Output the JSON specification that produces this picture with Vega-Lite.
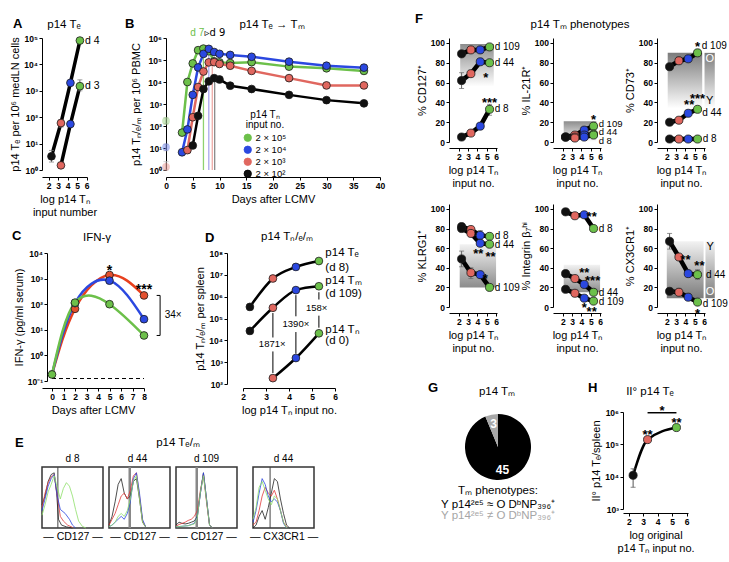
{
"$schema":"https://vega.github.io/schema/vega-lite/v6.json",
"autosize":{"type":"none"},
"padding":{"left":42,"top":38,"right":687,"bottom":524},
"background":"#ffffff",
"config":{
 "font":"Liberation Sans",
 "view":{"stroke":null},
 "axis":{"grid":false,"domainColor":"#000000","tickColor":"#000000","labelColor":"#000000","titleColor":"#000000","labelFont":"Liberation Sans","titleFont":"Liberation Sans","labelFontSize":8.5,"labelFontWeight":"bold","titleFontSize":11,"titleFontWeight":"normal","tickSize":3,"labelPadding":1.5,"titlePadding":3,"labelFlush":false,"labelOverlap":false,"labelBound":false},
 "axisX":{"labelAngle":0},
 "title":{"font":"Liberation Sans","fontSize":11.5,"fontWeight":"normal","color":"#000000","anchor":"middle","frame":"group","offset":0},
 "text":{"font":"Liberation Sans"},
 "legend":{"labelFont":"Liberation Sans","titleFont":"Liberation Sans"}
},
"datasets":{
 "bmain":[
{"n":"2 × 10⁵","x":3,"y":50},{"n":"2 × 10⁵","x":4,"y":10000},{"n":"2 × 10⁵","x":5,"y":70000},{"n":"2 × 10⁵","x":6,"y":280000},{"n":"2 × 10⁵","x":7,"y":330000},{"n":"2 × 10⁵","x":8,"y":250000},{"n":"2 × 10⁵","x":9,"y":87000},{"n":"2 × 10⁵","x":10,"y":78000},{"n":"2 × 10⁵","x":12,"y":73000},{"n":"2 × 10⁵","x":16,"y":80000},{"n":"2 × 10⁵","x":23,"y":50000},{"n":"2 × 10⁵","x":30,"y":42000},{"n":"2 × 10⁵","x":37,"y":32000},
{"n":"2 × 10⁴","x":3,"y":6.4},{"n":"2 × 10⁴","x":4,"y":70},{"n":"2 × 10⁴","x":5,"y":2600},{"n":"2 × 10⁴","x":6,"y":46000},{"n":"2 × 10⁴","x":7,"y":190000},{"n":"2 × 10⁴","x":8,"y":320000},{"n":"2 × 10⁴","x":9,"y":230000},{"n":"2 × 10⁴","x":10,"y":190000},{"n":"2 × 10⁴","x":12,"y":170000},{"n":"2 × 10⁴","x":16,"y":140000},{"n":"2 × 10⁴","x":23,"y":84000},{"n":"2 × 10⁴","x":30,"y":55000},{"n":"2 × 10⁴","x":37,"y":45000},
{"n":"2 × 10³","x":4,"y":8},{"n":"2 × 10³","x":5,"y":250},{"n":"2 × 10³","x":6,"y":5900},{"n":"2 × 10³","x":7,"y":30000},{"n":"2 × 10³","x":8,"y":78000},{"n":"2 × 10³","x":9,"y":80000},{"n":"2 × 10³","x":10,"y":66000},{"n":"2 × 10³","x":12,"y":55000},{"n":"2 × 10³","x":16,"y":32000},{"n":"2 × 10³","x":23,"y":15000},{"n":"2 × 10³","x":30,"y":7000},{"n":"2 × 10³","x":37,"y":7000},
{"n":"2 × 10²","x":5,"y":13},{"n":"2 × 10²","x":6,"y":290},{"n":"2 × 10²","x":7,"y":4800},{"n":"2 × 10²","x":8,"y":10700},{"n":"2 × 10²","x":9,"y":15000},{"n":"2 × 10²","x":10,"y":13000},{"n":"2 × 10²","x":12,"y":6800},{"n":"2 × 10²","x":16,"y":4800},{"n":"2 × 10²","x":23,"y":2600},{"n":"2 × 10²","x":30,"y":1500},{"n":"2 × 10²","x":37,"y":1070}
 ],
 "cline":[
{"n":"r","x":0,"y":0.18},{"n":"r","x":2,"y":66},{"n":"r","x":5,"y":1380},{"n":"r","x":8,"y":220},
{"n":"b","x":0,"y":0.18},{"n":"b","x":2,"y":110},{"n":"b","x":5,"y":830},{"n":"b","x":8,"y":26},
{"n":"g","x":0,"y":0.18},{"n":"g","x":2,"y":115},{"n":"g","x":5,"y":100},{"n":"g","x":8,"y":6}
 ],
 "none":[],
 "frame":[{"x":0,"x2":1,"y":0,"y2":1.05}]
},
"columns":10,"align":"each","bounds":"flush","spacing":0,
"resolve":{"scale":{"fill":"independent","stroke":"independent","color":"independent"}},
"concat":[
{
 "width":45,"height":132,
 "data":{"values":[
  {"s":"d4","n":"k","x":2.3,"y":3.3},{"s":"d4","n":"r","x":3.3,"y":60},{"s":"d4","n":"b","x":4.3,"y":2000},{"s":"d4","n":"g","x":5.3,"y":80000},
  {"s":"d3","n":"r","x":3.3,"y":1.5},{"s":"d3","n":"b","x":4.3,"y":55},{"s":"d3","n":"g","x":5.3,"y":1500}]},
 "encoding":{
  "x":{"field":"x","type":"quantitative","scale":{"domain":[1.3,6.05]},"axis":{"values":[2,3,4,5,6],"title":["log p14 Tₙ","input number"],"offset":7}},
  "y":{"field":"y","type":"quantitative","scale":{"type":"log","domain":[1,100000]},"axis":{"values":[1,10,100,1000,10000,100000],"labelExpr":"datum.value < 1 ? '10⁻¹' : '10' + ['⁰','¹','²','³','⁴','⁵','⁶','⁷','⁸'][round(log(datum.value)/LN10)]","title":"p14 Tₑ per 10⁶ medLN cells"}}},
 "layer":[
  {"mark":{"type":"line","color":"#000000","strokeWidth":3.5},"encoding":{"detail":{"field":"s","type":"nominal"}}},
  {"data":{"values":[{"x":2.3,"y":2,"hi":5.5},{"x":5.3,"y":1000,"hi":2600},{"x":3.3,"y":42,"hi":80}]},"mark":{"type":"errorbar","ticks":{"size":5},"color":"#777777"},"encoding":{"y2":{"field":"hi"}}},
  {"mark":{"type":"circle","size":60,"stroke":"#1a1a1a","strokeWidth":0.8,"opacity":1},"encoding":{"fill":{"field":"n","type":"nominal","scale":{"domain":["g","b","r","k"],"range":["#6cc04a","#2b48e0","#e0675f","#111111"]},"legend":null}}},
  {"data":{"values":[{"t":"d 4","x":5.85,"y":80000},{"t":"d 3","x":5.85,"y":1500}]},"mark":{"type":"text","align":"left","baseline":"middle","fontSize":10.5},"encoding":{"text":{"field":"t"}}}
 ]},
{"width":57,"height":1,"data":{"name":"none"},"mark":"point","title":{"text":"A","anchor":"start","fontSize":13,"fontWeight":"bold","dx":-96,"dy":-3}},
{
 "width":10,"height":132,
 "encoding":{
  "x":{"field":"x","type":"quantitative","scale":{"domain":[0,40],"range":[0,214]},"axis":{"values":[0,5,10,15,20,25,30,35,40],"title":"Days after LCMV","offset":7}},
  "y":{"field":"y","type":"quantitative","scale":{"type":"log","domain":[1,1000000]},"axis":{"values":[1,10,100,1000,10000,100000,1000000],"labelExpr":"datum.value < 1 ? '10⁻¹' : '10' + ['⁰','¹','²','³','⁴','⁵','⁶','⁷','⁸'][round(log(datum.value)/LN10)]","title":"p14 Tₙ/ₑ/ₘ per 10⁶ PBMC","titlePadding":6}}},
 "layer":[
  {"data":{"values":[{"x":7,"y":330000,"k":"g"},{"x":8,"y":320000,"k":"b"},{"x":8.65,"y":80000,"k":"r"},{"x":9.1,"y":15000,"k":"k"}]},
   "mark":{"type":"rule","strokeWidth":1.3},
   "encoding":{"y2":{"datum":1},"color":{"field":"k","type":"nominal","scale":{"domain":["g","b","r","k"],"range":["#8fd16e","#aaa6ee","#eeaaa6","#8a8a8a"]},"legend":null}}},
  {"data":{"values":[{"x":0,"y":125,"hi":235},{"x":0,"y":7.5,"hi":15},{"x":0,"y":1,"hi":2.4},{"x":3,"y":4.5,"hi":8.5},{"x":4,"y":6,"hi":12}]},"mark":{"type":"errorbar","ticks":{"size":5},"color":"#bbbbbb"},"encoding":{"y2":{"field":"hi"}}},
  {"data":{"values":[{"n":"2 × 10⁵","x":0,"y":170},{"n":"2 × 10⁴","x":0,"y":11},{"n":"2 × 10³","x":0,"y":1.4}]},
   "mark":{"type":"circle","size":60,"opacity":0.35},
   "encoding":{"fill":{"field":"n","type":"nominal","scale":{"domain":["2 × 10⁵","2 × 10⁴","2 × 10³","2 × 10²"],"range":["#6cc04a","#2b48e0","#e0675f","#111111"]},
    "legend":{"title":["p14 Tₙ","input no."],"orient":"none","legendX":77,"legendY":72,"padding":0,"titleAnchor":"middle","titleAlign":"center","titleFontWeight":"normal","titleFontSize":10,"titleLineHeight":10,"labelFontSize":9.5,"symbolSize":55,"symbolType":"circle","symbolStrokeColor":"#1a1a1a","symbolStrokeWidth":0.8,"symbolOpacity":1,"rowPadding":0,"titlePadding":3,"labelOffset":3}}}},
  {"data":{"name":"bmain"},"mark":{"type":"line","strokeWidth":2.5},
   "encoding":{"stroke":{"field":"n","type":"nominal","scale":{"domain":["2 × 10⁵","2 × 10⁴","2 × 10³","2 × 10²"],"range":["#6cc04a","#2b48e0","#e0675f","#000000"]},"legend":null}}},
  {"data":{"name":"bmain"},"mark":{"type":"circle","size":60,"stroke":"#1a1a1a","strokeWidth":0.8,"opacity":1},
   "encoding":{"fill":{"field":"n","type":"nominal","scale":{"domain":["2 × 10⁵","2 × 10⁴","2 × 10³","2 × 10²"],"range":["#6cc04a","#2b48e0","#e0675f","#111111"]},
    "legend":{"title":["p14 Tₙ","input no."],"orient":"none","legendX":77,"legendY":72,"padding":0,"titleAnchor":"middle","titleAlign":"center","titleFontWeight":"normal","titleFontSize":10,"titleLineHeight":10,"labelFontSize":9.5,"symbolSize":55,"symbolType":"circle","symbolStrokeColor":"#1a1a1a","symbolStrokeWidth":0.8,"symbolOpacity":1,"rowPadding":0,"titlePadding":3,"labelOffset":3}}}},
  {"data":{"values":[{"t":"d 7","x":7.15,"y":1700000}]},"mark":{"type":"text","align":"right","baseline":"middle","fontSize":10,"fill":"#6cc04a"},"encoding":{"text":{"field":"t"}}},
  {"data":{"values":[{"t":"▹d 9","x":7.2,"y":1700000}]},"mark":{"type":"text","align":"left","baseline":"middle","fontSize":10,"fill":"#000000","font":"DejaVu Sans"},"encoding":{"text":{"field":"t"}}}
 ]},
{"width":67,"height":166,"data":{"name":"none"},"mark":"point","title":{"text":"B","anchor":"start","fontSize":13,"fontWeight":"bold","dx":-51,"dy":-3}},
{"width":10,"height":1,"data":{"name":"none"},"mark":"point","title":{"text":"p14 Tₑ","dx":-184,"dy":-4}},
{"width":196,"height":1,"data":{"name":"none"},"mark":"point","title":{"text":"F","anchor":"start","fontSize":13,"fontWeight":"bold","dx":162,"dy":-8.5}},
{"width":48,"height":104,
 "data":{"values":[{"s":"a","n":"k","x":2.3,"y":89},{"s":"a","n":"r","x":3.3,"y":93},{"s":"a","n":"b","x":4.3,"y":93},{"s":"a","n":"g","x":5.3,"y":96},{"s":"b","n":"k","x":2.3,"y":62},{"s":"b","n":"r","x":3.3,"y":69},{"s":"b","n":"b","x":4.3,"y":81},{"s":"b","n":"g","x":5.3,"y":80},{"s":"c","n":"k","x":2.3,"y":5},{"s":"c","n":"r","x":3.3,"y":9},{"s":"c","n":"b","x":4.3,"y":16},{"s":"c","n":"g","x":5.3,"y":33}]},
 "encoding":{"x":{"field":"x","type":"quantitative","scale":{"domain":[0.95,6.1]},"axis":{"values":[2,3,4,5,6],"title":["log p14 Tₙ","input no."],"offset":6}},
             "y":{"field":"y","type":"quantitative","scale":{"domain":[0,105]},"axis":{"values":[0,20,40,60,80,100],"title":"% CD127⁺"}}},
 "layer":[
  {"data":{"values":[{"x":2.15,"x2":5.75,"y":56,"y2":99}]},"mark":{"type":"rect","fill":{"gradient":"linear","x1":0,"y1":0,"x2":0,"y2":1,"stops":[{"offset":0,"color":"#8c8c8c"},{"offset":1,"color":"#ffffff"}]}},"encoding":{"x2":{"field":"x2"},"y2":{"field":"y2"}}},
  {"data":{"values":[{"x":2.3,"y":54,"hi":70},{"x":5.3,"y":27,"hi":38}]},"mark":{"type":"errorbar","ticks":{"size":5},"color":"#666666"},"encoding":{"y2":{"field":"hi"}}},
  {"mark":{"type":"line","color":"#000000","strokeWidth":4.5,"strokeCap":"round"},"encoding":{"detail":{"field":"s","type":"nominal"}}},
  {"mark":{"type":"circle","size":65,"stroke":"#1a1a1a","strokeWidth":0.8,"opacity":1},"encoding":{"fill":{"field":"n","type":"nominal","scale":{"domain":["g","b","r","k"],"range":["#6cc04a","#2b48e0","#e0675f","#111111"]},"legend":null}}},
  {"data":{"values":[{"t":"d 109","x":5.85,"y":96},{"t":"d 44","x":5.85,"y":80},{"t":"d 8","x":5.85,"y":33}]},"mark":{"type":"text","align":"left","baseline":"middle","fontSize":10},"encoding":{"text":{"field":"t"}}},
  {"data":{"values":[{"t":"*","x":4.9,"y":68},{"t":"***","x":5.3,"y":42}]},"mark":{"type":"text","align":"center","baseline":"middle","fontSize":13,"fontWeight":"bold","dy":3},"encoding":{"text":{"field":"t"}}}
 ]},
{"width":48,"height":104,
 "data":{"values":[{"s":"a","n":"k","x":2.3,"y":5},{"s":"a","n":"r","x":3.3,"y":7},{"s":"a","n":"b","x":4.3,"y":12},{"s":"a","n":"g","x":5.3,"y":16},{"s":"b","n":"k","x":2.3,"y":5},{"s":"b","n":"r","x":3.3,"y":5},{"s":"b","n":"b","x":4.3,"y":7},{"s":"b","n":"g","x":5.3,"y":8},{"s":"c","n":"k","x":2.3,"y":5},{"s":"c","n":"r","x":3.3,"y":4},{"s":"c","n":"b","x":4.3,"y":5},{"s":"c","n":"g","x":5.3,"y":7}]},
 "encoding":{"x":{"field":"x","type":"quantitative","scale":{"domain":[0.95,6.1]},"axis":{"values":[2,3,4,5,6],"title":["log p14 Tₙ","input no."],"offset":6}},
             "y":{"field":"y","type":"quantitative","scale":{"domain":[0,105]},"axis":{"values":[0,20,40,60,80,100],"title":"% IL-21R⁺"}}},
 "layer":[
  {"data":{"values":[{"x":2.1,"x2":5.6,"y":0,"y2":21}]},"mark":{"type":"rect","fill":{"gradient":"linear","x1":0,"y1":0,"x2":0,"y2":1,"stops":[{"offset":0,"color":"#8c8c8c"},{"offset":1,"color":"#ffffff"}]}},"encoding":{"x2":{"field":"x2"},"y2":{"field":"y2"}}},
  {"mark":{"type":"line","color":"#000000","strokeWidth":4.5,"strokeCap":"round"},"encoding":{"detail":{"field":"s","type":"nominal"}}},
  {"mark":{"type":"circle","size":65,"stroke":"#1a1a1a","strokeWidth":0.8,"opacity":1},"encoding":{"fill":{"field":"n","type":"nominal","scale":{"domain":["g","b","r","k"],"range":["#6cc04a","#2b48e0","#e0675f","#111111"]},"legend":null}}},
  {"data":{"values":[{"t":"d 109","x":5.85,"y":18.5},{"t":"d 44","x":5.85,"y":10},{"t":"d 8","x":5.85,"y":1.5}]},"mark":{"type":"text","align":"left","baseline":"middle","fontSize":9.5},"encoding":{"text":{"field":"t"}}},
  {"data":{"values":[{"t":"*","x":5.3,"y":25}]},"mark":{"type":"text","align":"center","baseline":"middle","fontSize":13,"fontWeight":"bold","dy":3},"encoding":{"text":{"field":"t"}}}
 ]},
{"width":34,"height":1,"data":{"name":"none"},"mark":"point","title":{"text":"p14 Tₑ → Tₘ","dx":-368,"dy":-4}},
{"width":48,"height":104,
 "data":{"values":[{"s":"a","n":"k","x":2.3,"y":76},{"s":"a","n":"r","x":3.3,"y":82},{"s":"a","n":"b","x":4.3,"y":84},{"s":"a","n":"g","x":5.3,"y":90},{"s":"b","n":"k","x":2.3,"y":20},{"s":"b","n":"r","x":3.3,"y":22},{"s":"b","n":"b","x":4.3,"y":29},{"s":"b","n":"g","x":5.3,"y":33},{"s":"c","n":"k","x":2.3,"y":3},{"s":"c","n":"r","x":3.3,"y":3},{"s":"c","n":"b","x":4.3,"y":3},{"s":"c","n":"g","x":5.3,"y":3}]},
 "encoding":{"x":{"field":"x","type":"quantitative","scale":{"domain":[0.95,6.1]},"axis":{"values":[2,3,4,5,6],"title":["log p14 Tₙ","input no."],"offset":6}},
             "y":{"field":"y","type":"quantitative","scale":{"domain":[0,105]},"axis":{"values":[0,20,40,60,80,100],"title":"% CD73⁺"}}},
 "layer":[
  {"data":{"values":[{"x":2.1,"x2":5.8,"y":34,"y2":90},{"x":6.05,"x2":7.15,"y":34,"y2":90}]},"mark":{"type":"rect","fill":{"gradient":"linear","x1":0,"y1":0,"x2":0,"y2":1,"stops":[{"offset":0,"color":"#7c7c7c"},{"offset":1,"color":"#ffffff"}]}},"encoding":{"x2":{"field":"x2"},"y2":{"field":"y2"}}},
  {"data":{"values":[{"x":3.3,"y":79,"hi":86}]},"mark":{"type":"errorbar","ticks":{"size":5},"color":"#666666"},"encoding":{"y2":{"field":"hi"}}},
  {"mark":{"type":"line","color":"#000000","strokeWidth":4.5,"strokeCap":"round"},"encoding":{"detail":{"field":"s","type":"nominal"}}},
  {"mark":{"type":"circle","size":65,"stroke":"#1a1a1a","strokeWidth":0.8,"opacity":1},"encoding":{"fill":{"field":"n","type":"nominal","scale":{"domain":["g","b","r","k"],"range":["#6cc04a","#2b48e0","#e0675f","#111111"]},"legend":null}}},
  {"data":{"values":[{"t":"d 109","x":5.75,"y":97},{"t":"d 44","x":5.8,"y":29},{"t":"d 8","x":5.85,"y":3}]},"mark":{"type":"text","align":"left","baseline":"middle","fontSize":10},"encoding":{"text":{"field":"t"}}},
  {"data":{"values":[{"t":"O","x":6.6,"y":84}]},"mark":{"type":"text","align":"center","baseline":"middle","fontSize":11,"fill":"#ffffff"},"encoding":{"text":{"field":"t"}}},
  {"data":{"values":[{"t":"Y","x":6.6,"y":41}]},"mark":{"type":"text","align":"center","baseline":"middle","fontSize":11,"fill":"#000000"},"encoding":{"text":{"field":"t"}}},
  {"data":{"values":[{"t":"*","x":5.3,"y":99},{"t":"**","x":4.4,"y":40},{"t":"***","x":5.3,"y":46}]},"mark":{"type":"text","align":"center","baseline":"middle","fontSize":13,"fontWeight":"bold","dy":3},"encoding":{"text":{"field":"t"}}}
 ]},

{"width":67,"height":1,"data":{"name":"none"},"mark":"point","title":{"text":"C","anchor":"start","fontSize":13,"fontWeight":"bold","dx":-30,"dy":42.5}},
{"width":57,"height":1,"data":{"name":"none"},"mark":"point","title":{"text":"IFN-γ","dx":-40.5,"dy":43.75}},
{"width":10,"height":1,"data":{"name":"none"},"mark":"point","title":{"text":"D","anchor":"start","fontSize":13,"fontWeight":"bold","dx":39,"dy":44.5}},
{"width":67,"height":1,"data":{"name":"none"},"mark":"point","title":{"text":"p14 Tₙ/ₑ/ₘ","dx":77.5,"dy":42.75}},
{"width":10,"height":1,"data":{"name":"none"},"mark":"point"},
{"width":196,"height":1,"data":{"name":"none"},"mark":"point"},
{"width":48,"height":49,
 "data":{"values":[{"s":"a","n":"k","x":2.3,"y":82},{"s":"a","n":"r","x":3.3,"y":79},{"s":"a","n":"b","x":4.3,"y":73},{"s":"a","n":"g","x":5.3,"y":72},{"s":"b","n":"k","x":2.3,"y":80},{"s":"b","n":"r","x":3.3,"y":75},{"s":"b","n":"b","x":4.3,"y":65},{"s":"b","n":"g","x":5.3,"y":64},{"s":"c","n":"k","x":2.3,"y":49},{"s":"c","n":"r","x":3.3,"y":35},{"s":"c","n":"b","x":4.3,"y":33},{"s":"c","n":"g","x":5.3,"y":20}]},
 "encoding":{"x":{"field":"x","type":"quantitative","scale":{"domain":[0.95,6.1]},"axis":{"values":[2,3,4,5,6],"title":["log p14 Tₙ","input no."],"offset":60}},
             "y":{"field":"y","type":"quantitative","scale":{"domain":[0,105],"range":[103,0]},"axis":{"values":[0,20,40,60,80,100],"title":"% KLRG1⁺"}}},
 "layer":[
  {"data":{"values":[{"x":2.1,"x2":6.0,"y":20,"y2":64}]},"mark":{"type":"rect","fill":{"gradient":"linear","x1":0,"y1":0,"x2":0,"y2":1,"stops":[{"offset":0,"color":"#f2f2f2"},{"offset":1,"color":"#8c8c8c"}]}},"encoding":{"x2":{"field":"x2"},"y2":{"field":"y2"}}},
  {"data":{"values":[{"x":2.3,"y":41,"hi":57},{"x":3.3,"y":29,"hi":40},{"x":4.3,"y":67,"hi":78}]},"mark":{"type":"errorbar","ticks":{"size":5},"color":"#666666"},"encoding":{"y2":{"field":"hi"}}},
  {"mark":{"type":"line","color":"#000000","strokeWidth":4.5,"strokeCap":"round"},"encoding":{"detail":{"field":"s","type":"nominal"}}},
  {"mark":{"type":"circle","size":65,"stroke":"#1a1a1a","strokeWidth":0.8,"opacity":1},"encoding":{"fill":{"field":"n","type":"nominal","scale":{"domain":["g","b","r","k"],"range":["#6cc04a","#2b48e0","#e0675f","#111111"]},"legend":null}}},
  {"data":{"values":[{"t":"d 8","x":5.85,"y":72},{"t":"d 44","x":5.85,"y":63},{"t":"d 109","x":5.85,"y":19}]},"mark":{"type":"text","align":"left","baseline":"middle","fontSize":10},"encoding":{"text":{"field":"t"}}},
  {"data":{"values":[{"t":"**","x":4.1,"y":57},{"t":"**","x":5.4,"y":54},{"t":"*","x":4.85,"y":32}]},"mark":{"type":"text","align":"center","baseline":"middle","fontSize":13,"fontWeight":"bold","dy":3},"encoding":{"text":{"field":"t"}}}
 ]},
{"width":48,"height":49,
 "data":{"values":[{"s":"a","n":"k","x":2.3,"y":97},{"s":"a","n":"r","x":3.3,"y":93},{"s":"a","n":"b","x":4.3,"y":94},{"s":"a","n":"g","x":5.3,"y":80},{"s":"b","n":"k","x":2.3,"y":34},{"s":"b","n":"r","x":3.3,"y":29},{"s":"b","n":"b","x":4.3,"y":23},{"s":"b","n":"g","x":5.3,"y":15},{"s":"c","n":"k","x":2.3,"y":18},{"s":"c","n":"r","x":3.3,"y":14},{"s":"c","n":"b","x":4.3,"y":9},{"s":"c","n":"g","x":5.3,"y":6}]},
 "encoding":{"x":{"field":"x","type":"quantitative","scale":{"domain":[0.95,6.1]},"axis":{"values":[2,3,4,5,6],"title":["log p14 Tₙ","input no."],"offset":60}},
             "y":{"field":"y","type":"quantitative","scale":{"domain":[0,105],"range":[103,0]},"axis":{"values":[0,20,40,60,80,100],"title":"% Integrin β₇ʰⁱ"}}},
 "layer":[
  {"data":{"values":[{"x":2.1,"x2":6.0,"y":15,"y2":43}]},"mark":{"type":"rect","fill":{"gradient":"linear","x1":0,"y1":0,"x2":0,"y2":1,"stops":[{"offset":0,"color":"#f2f2f2"},{"offset":1,"color":"#8c8c8c"}]}},"encoding":{"x2":{"field":"x2"},"y2":{"field":"y2"}}},
  {"data":{"values":[{"x":5.3,"y":77,"hi":83}]},"mark":{"type":"errorbar","ticks":{"size":5},"color":"#666666"},"encoding":{"y2":{"field":"hi"}}},
  {"mark":{"type":"line","color":"#000000","strokeWidth":4.5,"strokeCap":"round"},"encoding":{"detail":{"field":"s","type":"nominal"}}},
  {"mark":{"type":"circle","size":65,"stroke":"#1a1a1a","strokeWidth":0.8,"opacity":1},"encoding":{"fill":{"field":"n","type":"nominal","scale":{"domain":["g","b","r","k"],"range":["#6cc04a","#2b48e0","#e0675f","#111111"]},"legend":null}}},
  {"data":{"values":[{"t":"d 8","x":5.85,"y":80},{"t":"d 44","x":5.85,"y":14},{"t":"d 109","x":5.85,"y":5}]},"mark":{"type":"text","align":"left","baseline":"middle","fontSize":10},"encoding":{"text":{"field":"t"}}},
  {"data":{"values":[{"t":"**","x":5.1,"y":95},{"t":"**","x":4.3,"y":38},{"t":"***","x":5.2,"y":30},{"t":"*","x":4.3,"y":2},{"t":"**","x":5.1,"y":-2}]},"mark":{"type":"text","align":"center","baseline":"middle","fontSize":13,"fontWeight":"bold","dy":3},"encoding":{"text":{"field":"t"}}}
 ]},
{"width":34,"height":1,"data":{"name":"none"},"mark":"point","title":{"text":"p14 Tₘ phenotypes","dx":-60,"dy":-170}},
{"width":48,"height":49,
 "data":{"values":[{"s":"a","n":"k","x":2.3,"y":67},{"s":"a","n":"r","x":3.3,"y":51},{"s":"a","n":"b","x":4.3,"y":34},{"s":"a","n":"g","x":5.3,"y":33},{"s":"b","n":"k","x":2.3,"y":16},{"s":"b","n":"r","x":3.3,"y":15},{"s":"b","n":"b","x":4.3,"y":10},{"s":"b","n":"g","x":5.3,"y":5}]},
 "encoding":{"x":{"field":"x","type":"quantitative","scale":{"domain":[0.95,6.1]},"axis":{"values":[2,3,4,5,6],"title":["log p14 Tₙ","input no."],"offset":60}},
             "y":{"field":"y","type":"quantitative","scale":{"domain":[0,105],"range":[103,0]},"axis":{"values":[0,20,40,60,80,100],"title":"% CX3CR1⁺"}}},
 "layer":[
  {"data":{"values":[{"x":2.0,"x2":5.95,"y":9,"y2":67},{"x":6.15,"x2":7.15,"y":9,"y2":67}]},"mark":{"type":"rect","fill":{"gradient":"linear","x1":0,"y1":0,"x2":0,"y2":1,"stops":[{"offset":0,"color":"#f2f2f2"},{"offset":1,"color":"#7c7c7c"}]}},"encoding":{"x2":{"field":"x2"},"y2":{"field":"y2"}}},
  {"data":{"values":[{"x":2.3,"y":59,"hi":75},{"x":5.3,"y":28,"hi":38},{"x":3.3,"y":13,"hi":19}]},"mark":{"type":"errorbar","ticks":{"size":5},"color":"#666666"},"encoding":{"y2":{"field":"hi"}}},
  {"mark":{"type":"line","color":"#000000","strokeWidth":4.5,"strokeCap":"round"},"encoding":{"detail":{"field":"s","type":"nominal"}}},
  {"mark":{"type":"circle","size":65,"stroke":"#1a1a1a","strokeWidth":0.8,"opacity":1},"encoding":{"fill":{"field":"n","type":"nominal","scale":{"domain":["g","b","r","k"],"range":["#6cc04a","#2b48e0","#e0675f","#111111"]},"legend":null}}},
  {"data":{"values":[{"t":"d 44","x":6.2,"y":33},{"t":"d 109","x":5.85,"y":3}]},"mark":{"type":"text","align":"left","baseline":"middle","fontSize":10},"encoding":{"text":{"field":"t"}}},
  {"data":{"values":[{"t":"Y","x":6.65,"y":61}]},"mark":{"type":"text","align":"center","baseline":"middle","fontSize":11,"fill":"#000000"},"encoding":{"text":{"field":"t"}}},
  {"data":{"values":[{"t":"O","x":6.65,"y":15}]},"mark":{"type":"text","align":"center","baseline":"middle","fontSize":11,"fill":"#ffffff"},"encoding":{"text":{"field":"t"}}},
  {"data":{"values":[{"t":"**","x":4.0,"y":51},{"t":"**","x":5.5,"y":45},{"t":"*","x":5.3,"y":-4}]},"mark":{"type":"text","align":"center","baseline":"middle","fontSize":13,"fontWeight":"bold","dy":3},"encoding":{"text":{"field":"t"}}}
 ]},

{
 "width":67,"height":128,
 "encoding":{
  "x":{"field":"x","type":"quantitative","scale":{"domain":[-0.87,8],"range":[0,102]},"axis":{"values":[0,1,2,3,4,5,6,7,8],"title":"Days after LCMV","offset":7}},
  "y":{"field":"y","type":"quantitative","scale":{"type":"log","domain":[0.1,10000]},"axis":{"values":[0.1,1,10,100,1000,10000],"labelExpr":"datum.value < 1 ? '10⁻¹' : '10' + ['⁰','¹','²','³','⁴','⁵','⁶','⁷','⁸'][round(log(datum.value)/LN10)]","title":"IFN-γ (pg/ml serum)","offset":-5}}},
 "layer":[
  {"data":{"values":[{"x":0,"x2":8,"y":0.125}]},"mark":{"type":"rule","strokeDash":[4,3],"color":"#000000","strokeWidth":1},"encoding":{"x2":{"field":"x2"}}},
  {"data":{"name":"cline"},"mark":{"type":"line","strokeWidth":2.5,"interpolate":"natural"},
   "encoding":{"stroke":{"field":"n","type":"nominal","scale":{"domain":["g","b","r"],"range":["#6cc04a","#2b48e0","#e8401e"]},"legend":null}}},
  {"data":{"values":[{"x":0,"y":0.14,"hi":0.25}]},"mark":{"type":"errorbar","ticks":{"size":5},"color":"#777777"},"encoding":{"y2":{"field":"hi"}}},
  {"data":{"values":[{"n":"r","x":2,"y":66},{"n":"b","x":2,"y":110},{"n":"r","x":5,"y":1380},{"n":"b","x":5,"y":830},{"n":"g","x":5,"y":100},{"n":"r","x":8,"y":220},{"n":"b","x":8,"y":26},{"n":"g","x":8,"y":6},{"n":"g","x":0,"y":0.18},{"n":"g","x":2,"y":115}]},
   "mark":{"type":"circle","size":60,"stroke":"#1a1a1a","strokeWidth":0.8,"opacity":1},
   "encoding":{"fill":{"field":"n","type":"nominal","scale":{"domain":["g","b","r"],"range":["#6cc04a","#2b48e0","#e4502e"]},"legend":null}}},
  {"data":{"values":[{"t":"*","x":5,"y":2600},{"t":"***","x":8,"y":480}]},"mark":{"type":"text","align":"center","baseline":"middle","fontSize":14,"fontWeight":"bold","dy":3},"encoding":{"text":{"field":"t"}}},
  {"data":{"values":[{"x":9.1,"x2":9.4,"y":220,"y2":220},{"x":9.1,"x2":9.4,"y":6,"y2":6},{"x":9.4,"x2":9.4,"y":6,"y2":220}]},"mark":{"type":"rule","color":"#000000","strokeWidth":1},"encoding":{"x2":{"field":"x2"},"y2":{"field":"y2"}}},
  {"data":{"values":[{"t":"34×","x":9.8,"y":38}]},"mark":{"type":"text","align":"left","baseline":"middle","fontSize":10},"encoding":{"text":{"field":"t"}}}
 ]},
{"width":57,"height":1,"data":{"name":"none"},"mark":"point"},
{"width":10,"height":1,"data":{"name":"none"},"mark":"point"},
{"width":67,"height":159,"data":{"name":"none"},"mark":"point"},
{
 "width":10,"height":131,
 "data":{"values":[
  {"s":"E","n":"k","x":2.3,"y":340000},{"s":"E","n":"r","x":3.3,"y":6800000},{"s":"E","n":"b","x":4.3,"y":23000000},{"s":"E","n":"g","x":5.3,"y":43000000},
  {"s":"M","n":"k","x":2.3,"y":27000},{"s":"M","n":"r","x":3.3,"y":310000},{"s":"M","n":"b","x":4.3,"y":2000000},{"s":"M","n":"g","x":5.3,"y":3000000},
  {"s":"N","n":"r","x":3.3,"y":186},{"s":"N","n":"b","x":4.3,"y":1550},{"s":"N","n":"g","x":5.3,"y":21000}]},
 "encoding":{
  "x":{"field":"x","type":"quantitative","scale":{"domain":[2,6],"range":[0,92]},"axis":{"values":[2,3,4,5,6],"title":"log p14 Tₙ input no.","offset":4}},
  "y":{"field":"y","type":"quantitative","scale":{"type":"log","domain":[100,100000000]},"axis":{"values":[100,1000,10000,100000,1000000,10000000,100000000],"labelExpr":"datum.value < 1 ? '10⁻¹' : '10' + ['⁰','¹','²','³','⁴','⁵','⁶','⁷','⁸'][round(log(datum.value)/LN10)]","title":"p14 Tₙ/ₑ/ₘ per spleen","offset":16}}},
 "layer":[
  {"mark":{"type":"line","color":"#000000","strokeWidth":2.5,"interpolate":"monotone"},"encoding":{"detail":{"field":"s","type":"nominal"}}},
  {"data":{"values":[{"x":3.3,"y":178000,"y2":13500},{"x":3.3,"y":3100,"y2":320},{"x":4.3,"y":1170000,"y2":126000},{"x":4.3,"y":24000,"y2":2450},{"x":5.3,"y":1600000,"y2":740000},{"x":5.3,"y":135000,"y2":38000}]},"mark":{"type":"rule","color":"#000000","strokeWidth":1},"encoding":{"y2":{"field":"y2"}}},
  {"data":{"values":[{"x":5.3,"y":2400000,"hi":3900000}]},"mark":{"type":"errorbar","ticks":{"size":5},"color":"#777777"},"encoding":{"y2":{"field":"hi"}}},
  {"mark":{"type":"circle","size":60,"stroke":"#1a1a1a","strokeWidth":0.8,"opacity":1},"encoding":{"fill":{"field":"n","type":"nominal","scale":{"domain":["g","b","r","k"],"range":["#6cc04a","#2b48e0","#e0675f","#111111"]},"legend":null}}},
  {"data":{"values":[{"t":"1871×","x":3.27,"y":7000},{"t":"1390×","x":4.3,"y":54000},{"t":"158×","x":5.2,"y":295000}]},"mark":{"type":"text","align":"center","baseline":"middle","fontSize":9.5},"encoding":{"text":{"field":"t"}}},
  {"data":{"values":[{"t":"p14 Tₑ","x":5.58,"y":100000000},{"t":"(d 8)","x":5.58,"y":21000000},{"t":"p14 Tₘ","x":5.58,"y":5500000},{"t":"(d 109)","x":5.58,"y":1380000},{"t":"p14 Tₙ","x":5.58,"y":29500},{"t":"(d 0)","x":5.58,"y":9500}]},"mark":{"type":"text","align":"left","baseline":"middle","fontSize":11.5},"encoding":{"text":{"field":"t"}}}
 ]},
{"width":196,"height":1,"data":{"name":"none"},"mark":"point"},
{"width":104,"height":1,"data":{"name":"none"},"mark":"point","title":{"text":"G","anchor":"start","fontSize":13,"fontWeight":"bold","dx":-21,"dy":145.5}},
{"width":70,"height":1,"data":{"name":"none"},"mark":"point","title":{"text":"p14 Tₘ","dx":-91,"dy":148.75}},
{"width":34,"height":1,"data":{"name":"none"},"mark":"point","title":{"text":"H","anchor":"start","fontSize":13,"fontWeight":"bold","dx":-35,"dy":145.5}},
{"width":48,"height":1,"data":{"name":"none"},"mark":"point","title":{"text":"II° p14 Tₑ","dx":-31,"dy":148.75}},

{"width":67,"height":1,"data":{"name":"none"},"mark":"point","title":{"text":"E","anchor":"start","fontSize":13,"fontWeight":"bold","dx":-27,"dy":41.5}},
{"width":57,"height":1,"data":{"name":"none"},"mark":"point","title":{"text":"p14 Tₑ/ₘ","dx":40.5,"dy":40.75}},
{"width":10,"height":1,"data":{"name":"none"},"mark":"point"},
{"width":67,"height":1,"data":{"name":"none"},"mark":"point"},
{"width":10,"height":1,"data":{"name":"none"},"mark":"point"},
{"width":196,"height":1,"data":{"name":"none"},"mark":"point"},
{
 "width":98,"height":55,
 "title":{"text":["Tₘ phenotypes:","Y p14²ᵉ⁵ ≈ O DᵇNP₃₉₆⁺"],"orient":"bottom","subtitle":"Y p14²ᵉ⁵ ≠ O DᵇNP₃₉₆⁺","subtitleColor":"#a6a6a6","fontSize":11.5,"subtitleFontSize":11.5,"subtitleFont":"Liberation Sans","fontWeight":"normal","offset":5,"lineHeight":14,"subtitleLineHeight":14,"subtitlePadding":0},
 "data":{"values":[{"c":"same","v":45,"o":1},{"c":"diff","v":3,"o":2}]},
 "encoding":{"theta":{"field":"v","type":"quantitative","stack":true},"order":{"field":"o","type":"quantitative"},"y":{"datum":0.364,"type":"quantitative","scale":{"domain":[0,1]},"axis":null}},
 "layer":[
  {"mark":{"type":"arc","outerRadius":33},"encoding":{"fill":{"field":"c","type":"nominal","scale":{"domain":["same","diff"],"range":["#000000","#a8a8a8"]},"legend":null}}},
  {"mark":{"type":"text","radius":23,"fill":"#ffffff","fontSize":12,"fontWeight":"bold"},"encoding":{"text":{"field":"v","type":"quantitative"}}}
 ]},
{"width":70,"height":1,"data":{"name":"none"},"mark":"point"},
{
 "width":34,"height":55,
 "data":{"values":[{"n":"k","x":2.3,"y":11000},{"n":"r","x":3.3,"y":140000},{"n":"g","x":5.3,"y":330000}]},
 "encoding":{
  "x":{"field":"x","type":"quantitative","scale":{"domain":[1.6,6.1],"range":[0,65]},"axis":{"values":[2,3,4,5,6],"title":["log original","p14 Tₙ input no."],"offset":46}},
  "y":{"field":"y","type":"quantitative","scale":{"type":"log","domain":[1000,1000000],"range":[97,0]},"axis":{"values":[1000,10000,100000,1000000],"labelExpr":"datum.value < 1 ? '10⁻¹' : '10' + ['⁰','¹','²','³','⁴','⁵','⁶','⁷','⁸'][round(log(datum.value)/LN10)]","title":"II° p14 Tₑ/spleen"}}},
 "layer":[
  {"mark":{"type":"line","color":"#000000","strokeWidth":2.5,"interpolate":"monotone"}},
  {"data":{"values":[{"x":2.3,"y":4700,"hi":17500}]},"mark":{"type":"errorbar","ticks":{"size":5},"color":"#555555"},"encoding":{"y2":{"field":"hi"}}},
  {"mark":{"type":"circle","size":65,"stroke":"#1a1a1a","strokeWidth":0.8,"opacity":1},"encoding":{"fill":{"field":"n","type":"nominal","scale":{"domain":["g","b","r","k"],"range":["#6cc04a","#2b48e0","#e0675f","#111111"]},"legend":null}}},
  {"data":{"values":[{"x":3.3,"x2":5.3,"y":950000}]},"mark":{"type":"rule","color":"#000000","strokeWidth":1.5},"encoding":{"x2":{"field":"x2"}}},
  {"data":{"values":[{"t":"**","x":3.3,"y":240000},{"t":"**","x":5.3,"y":560000},{"t":"*","x":4.3,"y":1300000}]},"mark":{"type":"text","align":"center","baseline":"middle","fontSize":13,"fontWeight":"bold","dy":3},"encoding":{"text":{"field":"t"}}}
 ]},
{"width":48,"height":1,"data":{"name":"none"},"mark":"point"},

{"width":61,"height":61,
 "title":{"text":"d 8","fontSize":10,"offset":2},
 "encoding":{"x":{"field":"x","type":"quantitative","scale":{"domain":[0,1]},"axis":{"title":"—   CD127   —","labels":false,"ticks":false,"domain":false,"titlePadding":3,"titleFontSize":10.5}},
             "y":{"field":"y","type":"quantitative","scale":{"domain":[0,1.05]},"axis":null}},
 "layer":[
  {"data":{"name":"frame"},"mark":{"type":"rect","fill":null,"stroke":"#333333","strokeWidth":1.5},"encoding":{"x2":{"field":"x2"},"y2":{"field":"y2"}}},
  {"data":{"values":[{"x":0.26}]},"mark":{"type":"rule","color":"#444444","strokeWidth":1},"encoding":{"y":null}},
  {"data":{"values":[
   {"n":"k","x":0,"y":0.4},{"n":"k","x":0.05,"y":0.55},{"n":"k","x":0.1,"y":0.8},{"n":"k","x":0.15,"y":0.92},{"n":"k","x":0.2,"y":0.95},{"n":"k","x":0.24,"y":0.6},{"n":"k","x":0.27,"y":0.15},{"n":"k","x":0.32,"y":0.05},{"n":"k","x":0.4,"y":0.02},{"n":"k","x":0.5,"y":0},
   {"n":"r","x":0,"y":0.35},{"n":"r","x":0.05,"y":0.6},{"n":"r","x":0.1,"y":0.78},{"n":"r","x":0.15,"y":0.88},{"n":"r","x":0.2,"y":0.92},{"n":"r","x":0.25,"y":0.55},{"n":"r","x":0.3,"y":0.2},{"n":"r","x":0.35,"y":0.12},{"n":"r","x":0.42,"y":0.05},{"n":"r","x":0.5,"y":0.01},
   {"n":"b","x":0,"y":0.3},{"n":"b","x":0.05,"y":0.5},{"n":"b","x":0.1,"y":0.72},{"n":"b","x":0.15,"y":0.85},{"n":"b","x":0.2,"y":0.92},{"n":"b","x":0.25,"y":0.55},{"n":"b","x":0.3,"y":0.32},{"n":"b","x":0.38,"y":0.25},{"n":"b","x":0.45,"y":0.15},{"n":"b","x":0.5,"y":0.05},{"n":"b","x":0.55,"y":0},
   {"n":"g","x":0,"y":0.22},{"n":"g","x":0.05,"y":0.4},{"n":"g","x":0.1,"y":0.62},{"n":"g","x":0.15,"y":0.75},{"n":"g","x":0.2,"y":0.9},{"n":"g","x":0.25,"y":0.7},{"n":"g","x":0.3,"y":0.5},{"n":"g","x":0.35,"y":0.68},{"n":"g","x":0.4,"y":0.78},{"n":"g","x":0.45,"y":0.72},{"n":"g","x":0.5,"y":0.55},{"n":"g","x":0.55,"y":0.32},{"n":"g","x":0.6,"y":0.12},{"n":"g","x":0.66,"y":0.03},{"n":"g","x":0.72,"y":0}]},
   "mark":{"type":"line","strokeWidth":0.8},
   "encoding":{"stroke":{"field":"n","type":"nominal","scale":{"domain":["k","r","b","g"],"range":["#222222","#e03a3a","#2a44e0","#8ee06a"]},"legend":null}}}
 ]},
{"width":57,"height":61,
 "title":{"text":"d 44","fontSize":10,"offset":2},
 "encoding":{"x":{"field":"x","type":"quantitative","scale":{"domain":[0,1],"range":[0,61]},"axis":{"title":"—   CD127   —","labels":false,"ticks":false,"domain":false,"titlePadding":3,"titleFontSize":10.5}},
             "y":{"field":"y","type":"quantitative","scale":{"domain":[0,1.05]},"axis":null}},
 "layer":[
  {"data":{"name":"frame"},"mark":{"type":"rect","fill":null,"stroke":"#333333","strokeWidth":1.5},"encoding":{"x2":{"field":"x2"},"y2":{"field":"y2"}}},
  {"data":{"values":[{"x":0.34}]},"mark":{"type":"rule","color":"#888888","strokeWidth":2.5},"encoding":{"y":null}},
  {"data":{"values":[
   {"n":"k","x":0,"y":0.05},{"n":"k","x":0.05,"y":0.2},{"n":"k","x":0.1,"y":0.45},{"n":"k","x":0.15,"y":0.75},{"n":"k","x":0.2,"y":0.85},{"n":"k","x":0.25,"y":0.6},{"n":"k","x":0.3,"y":0.5},{"n":"k","x":0.35,"y":0.55},{"n":"k","x":0.4,"y":0.8},{"n":"k","x":0.45,"y":0.85},{"n":"k","x":0.5,"y":0.5},{"n":"k","x":0.55,"y":0.1},{"n":"k","x":0.6,"y":0.02},
   {"n":"r","x":0,"y":0.05},{"n":"r","x":0.05,"y":0.15},{"n":"r","x":0.1,"y":0.25},{"n":"r","x":0.15,"y":0.4},{"n":"r","x":0.2,"y":0.55},{"n":"r","x":0.25,"y":0.6},{"n":"r","x":0.3,"y":0.5},{"n":"r","x":0.35,"y":0.65},{"n":"r","x":0.4,"y":0.9},{"n":"r","x":0.45,"y":0.95},{"n":"r","x":0.5,"y":0.55},{"n":"r","x":0.55,"y":0.12},{"n":"r","x":0.6,"y":0.02},
   {"n":"b","x":0,"y":0.02},{"n":"b","x":0.05,"y":0.05},{"n":"b","x":0.1,"y":0.1},{"n":"b","x":0.15,"y":0.15},{"n":"b","x":0.2,"y":0.2},{"n":"b","x":0.25,"y":0.15},{"n":"b","x":0.3,"y":0.25},{"n":"b","x":0.35,"y":0.45},{"n":"b","x":0.4,"y":0.85},{"n":"b","x":0.45,"y":0.95},{"n":"b","x":0.5,"y":0.6},{"n":"b","x":0.55,"y":0.15},{"n":"b","x":0.6,"y":0.02},
   {"n":"g","x":0,"y":0.02},{"n":"g","x":0.05,"y":0.05},{"n":"g","x":0.1,"y":0.1},{"n":"g","x":0.15,"y":0.2},{"n":"g","x":0.2,"y":0.25},{"n":"g","x":0.25,"y":0.2},{"n":"g","x":0.3,"y":0.3},{"n":"g","x":0.35,"y":0.5},{"n":"g","x":0.4,"y":0.8},{"n":"g","x":0.45,"y":0.9},{"n":"g","x":0.5,"y":0.5},{"n":"g","x":0.55,"y":0.1},{"n":"g","x":0.6,"y":0.02}]},
   "mark":{"type":"line","strokeWidth":0.8},
   "encoding":{"stroke":{"field":"n","type":"nominal","scale":{"domain":["k","r","b","g"],"range":["#222222","#e03a3a","#2a44e0","#8ee06a"]},"legend":null}}}
 ]},
{"width":10,"height":1,"data":{"name":"none"},"mark":"point"},
{"width":61,"height":61,
 "title":{"text":"d 109","fontSize":10,"offset":2},
 "encoding":{"x":{"field":"x","type":"quantitative","scale":{"domain":[0,1]},"axis":{"title":"—   CD127   —","labels":false,"ticks":false,"domain":false,"titlePadding":3,"titleFontSize":10.5}},
             "y":{"field":"y","type":"quantitative","scale":{"domain":[0,1.05]},"axis":null}},
 "layer":[
  {"data":{"name":"frame"},"mark":{"type":"rect","fill":null,"stroke":"#333333","strokeWidth":1.5},"encoding":{"x2":{"field":"x2"},"y2":{"field":"y2"}}},
  {"data":{"values":[{"x":0.34}]},"mark":{"type":"rule","color":"#888888","strokeWidth":2.5},"encoding":{"y":null}},
  {"data":{"values":[
   {"n":"k","x":0,"y":0.05},{"n":"k","x":0.05,"y":0.1},{"n":"k","x":0.1,"y":0.08},{"n":"k","x":0.15,"y":0.07},{"n":"k","x":0.2,"y":0.08},{"n":"k","x":0.25,"y":0.1},{"n":"k","x":0.3,"y":0.12},{"n":"k","x":0.35,"y":0.2},{"n":"k","x":0.4,"y":0.6},{"n":"k","x":0.45,"y":0.95},{"n":"k","x":0.5,"y":0.5},{"n":"k","x":0.55,"y":0.05},{"n":"k","x":0.6,"y":0},
   {"n":"r","x":0,"y":0.03},{"n":"r","x":0.05,"y":0.06},{"n":"r","x":0.1,"y":0.08},{"n":"r","x":0.15,"y":0.1},{"n":"r","x":0.2,"y":0.13},{"n":"r","x":0.25,"y":0.15},{"n":"r","x":0.3,"y":0.2},{"n":"r","x":0.35,"y":0.3},{"n":"r","x":0.4,"y":0.65},{"n":"r","x":0.45,"y":0.92},{"n":"r","x":0.5,"y":0.45},{"n":"r","x":0.55,"y":0.05},{"n":"r","x":0.6,"y":0},
   {"n":"b","x":0,"y":0.02},{"n":"b","x":0.1,"y":0.03},{"n":"b","x":0.2,"y":0.04},{"n":"b","x":0.3,"y":0.08},{"n":"b","x":0.35,"y":0.2},{"n":"b","x":0.4,"y":0.6},{"n":"b","x":0.45,"y":0.95},{"n":"b","x":0.5,"y":0.5},{"n":"b","x":0.55,"y":0.05},{"n":"b","x":0.6,"y":0},
   {"n":"g","x":0,"y":0.02},{"n":"g","x":0.1,"y":0.03},{"n":"g","x":0.2,"y":0.04},{"n":"g","x":0.3,"y":0.07},{"n":"g","x":0.35,"y":0.18},{"n":"g","x":0.4,"y":0.62},{"n":"g","x":0.45,"y":0.9},{"n":"g","x":0.5,"y":0.48},{"n":"g","x":0.55,"y":0.05},{"n":"g","x":0.6,"y":0}]},
   "mark":{"type":"line","strokeWidth":0.8},
   "encoding":{"stroke":{"field":"n","type":"nominal","scale":{"domain":["k","r","b","g"],"range":["#222222","#e03a3a","#2a44e0","#8ee06a"]},"legend":null}}}
 ]},
{"width":10,"height":1,"data":{"name":"none"},"mark":"point"},
{"width":61,"height":61,
 "title":{"text":"d 44","fontSize":10,"offset":2},
 "encoding":{"x":{"field":"x","type":"quantitative","scale":{"domain":[0,1]},"axis":{"title":"—   CX3CR1   —","labels":false,"ticks":false,"domain":false,"titlePadding":3,"titleFontSize":10.5}},
             "y":{"field":"y","type":"quantitative","scale":{"domain":[0,1.05]},"axis":null}},
 "layer":[
  {"data":{"name":"frame"},"mark":{"type":"rect","fill":null,"stroke":"#333333","strokeWidth":1.5},"encoding":{"x2":{"field":"x2"},"y2":{"field":"y2"}}},
  {"data":{"values":[{"x":0.28}]},"mark":{"type":"rule","color":"#444444","strokeWidth":1},"encoding":{"y":null}},
  {"data":{"values":[
   {"n":"k","x":0,"y":0},{"n":"k","x":0.05,"y":0.05},{"n":"k","x":0.1,"y":0.2},{"n":"k","x":0.15,"y":0.3},{"n":"k","x":0.2,"y":0.15},{"n":"k","x":0.25,"y":0.35},{"n":"k","x":0.3,"y":0.6},{"n":"k","x":0.35,"y":0.85},{"n":"k","x":0.4,"y":0.8},{"n":"k","x":0.45,"y":0.5},{"n":"k","x":0.5,"y":0.25},{"n":"k","x":0.55,"y":0.05},{"n":"k","x":0.6,"y":0},
   {"n":"r","x":0,"y":0.05},{"n":"r","x":0.05,"y":0.1},{"n":"r","x":0.1,"y":0.3},{"n":"r","x":0.15,"y":0.55},{"n":"r","x":0.2,"y":0.7},{"n":"r","x":0.25,"y":0.6},{"n":"r","x":0.3,"y":0.55},{"n":"r","x":0.35,"y":0.65},{"n":"r","x":0.4,"y":0.5},{"n":"r","x":0.45,"y":0.3},{"n":"r","x":0.5,"y":0.1},{"n":"r","x":0.55,"y":0.02},
   {"n":"b","x":0,"y":0.1},{"n":"b","x":0.05,"y":0.3},{"n":"b","x":0.1,"y":0.6},{"n":"b","x":0.15,"y":0.85},{"n":"b","x":0.2,"y":0.75},{"n":"b","x":0.25,"y":0.55},{"n":"b","x":0.3,"y":0.45},{"n":"b","x":0.35,"y":0.5},{"n":"b","x":0.4,"y":0.45},{"n":"b","x":0.45,"y":0.3},{"n":"b","x":0.5,"y":0.08},{"n":"b","x":0.55,"y":0},
   {"n":"g","x":0,"y":0.15},{"n":"g","x":0.05,"y":0.35},{"n":"g","x":0.1,"y":0.7},{"n":"g","x":0.15,"y":0.8},{"n":"g","x":0.2,"y":0.65},{"n":"g","x":0.25,"y":0.5},{"n":"g","x":0.3,"y":0.4},{"n":"g","x":0.35,"y":0.55},{"n":"g","x":0.4,"y":0.5},{"n":"g","x":0.45,"y":0.3},{"n":"g","x":0.5,"y":0.1},{"n":"g","x":0.55,"y":0}]},
   "mark":{"type":"line","strokeWidth":0.8},
   "encoding":{"stroke":{"field":"n","type":"nominal","scale":{"domain":["k","r","b","g"],"range":["#222222","#e03a3a","#2a44e0","#8ee06a"]},"legend":null}}}
 ]},
{"width":104,"height":1,"data":{"name":"none"},"mark":"point"},
{"width":70,"height":1,"data":{"name":"none"},"mark":"point"},
{"width":34,"height":1,"data":{"name":"none"},"mark":"point"},
{"width":48,"height":1,"data":{"name":"none"},"mark":"point"}
]
}
